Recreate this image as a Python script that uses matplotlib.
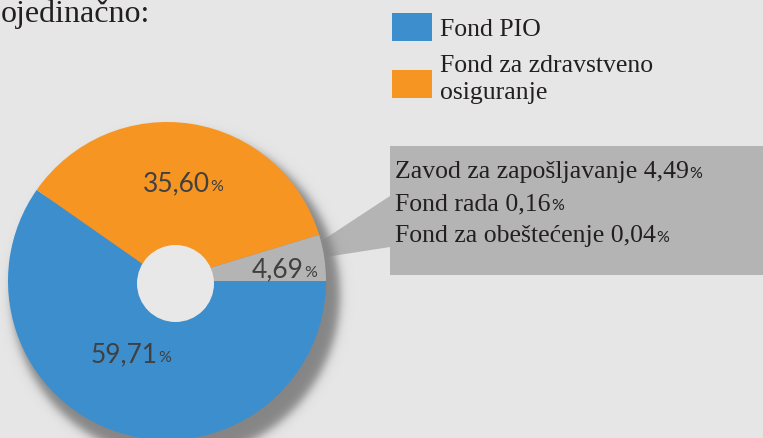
import numpy as np
import matplotlib
matplotlib.use("Agg")
import matplotlib.pyplot as plt
from matplotlib.patches import Rectangle, Circle, Polygon

# ---------------- data ----------------
title = "ojedinačno:"
slice_labels = ["Fond PIO", "Fond za zdravstveno\nosiguranje", "Ostalo"]
slice_values = [59.71, 35.60, 4.69]
legend_labels = ["Fond PIO", "Fond za zdravstveno\nosiguranje"]
other_names = ["Zavod za zapošljavanje", "Fond rada", "Fond za obeštećenje"]
other_values = [4.49, 0.16, 0.04]

# ---------------- style ----------------
W, H = 763, 439
BG = "#e6e6e6"
BLUE = "#3c8ecd"
ORANGE = "#f79522"
GRAY = "#b4b4b4"
HOLE = "#e8e8e8"
SHADOW = "#858585"
TXT = "#231f20"
NUM = "#404040"
SERIF = ["Liberation Serif", "DejaVu Serif"]
SANS = ["Lato", "DejaVu Sans"]

fig = plt.figure(figsize=(W / 100, H / 100), dpi=100, facecolor=BG)
ax = fig.add_axes([0, 0, 1, 1])
ax.set_facecolor(BG)


def Y(p):
    return H - p


cx, cy, R = 167, 282, 159

# connector wedge (under the shadow)
ax.add_patch(Polygon([(390, Y(197)), (323, Y(241)), (326, Y(258)), (390, Y(248))],
                     closed=True, facecolor=GRAY, edgecolor="none", zorder=1))
# callout box
ax.add_patch(Rectangle((390, Y(276)), 400, 129, facecolor=GRAY, edgecolor="none", zorder=1))

# soft drop shadow of the pie
yy, xx = np.mgrid[0:H, 0:W] + 0.5
sx, sy, sr = cx + 9, cy + 14, R + 5
d = np.sqrt((xx - sx) ** 2 + (yy - sy) ** 2)
alpha = 1.0 / (1.0 + np.exp(-(sr - d) / 2.8))
rgba = np.zeros((H, W, 4))
c = matplotlib.colors.to_rgb(SHADOW)
rgba[..., 0], rgba[..., 1], rgba[..., 2] = c
rgba[..., 3] = alpha
ax.imshow(rgba, extent=(0, W, 0, H), origin="upper", zorder=2, interpolation="bilinear")

# pie
wedges, _ = ax.pie(slice_values, colors=[BLUE, ORANGE, GRAY], startangle=0,
                   counterclock=False, center=(cx, Y(cy)), radius=R,
                   wedgeprops=dict(linewidth=0))
for w in wedges:
    w.set_zorder(3)
ax.add_patch(Circle((175.5, Y(284.5)), 38.5, facecolor=HOLE, edgecolor="none", zorder=4))

ax.set_xlim(0, W)
ax.set_ylim(0, H)
ax.set_aspect("auto")
ax.axis("off")

renderer = fig.canvas.get_renderer()


def fmt(v):
    return f"{v:.2f}".replace(".", ",")


# percentage labels on the pie
label_pos = [(91, 362), (143, 191), (252, 277)]
for (lx, lb), v in zip(label_pos, slice_values):
    t = ax.text(lx, Y(lb), fmt(v), fontsize=19, family=SANS,
                color=NUM, ha="left", va="baseline", zorder=5)
    bb = t.get_window_extent(renderer)
    ax.text(bb.x1 + 0.5, Y(lb), "%", fontsize=11.5, family=SANS,
            color=NUM, ha="left", va="baseline", zorder=5)

# title (cropped)
ax.text(1, Y(22), title, fontsize=23, family=SERIF, color=TXT, ha="left", va="baseline")

# legend
leg_colors = [BLUE, ORANGE]
leg_box_top = [14, 71]
leg_baselines = [[36], [72, 99]]
for col, top, lab, bls in zip(leg_colors, leg_box_top, legend_labels, leg_baselines):
    ax.add_patch(Rectangle((392, Y(top + 28)), 40, 28, facecolor=col, edgecolor="none"))
    for line, bl in zip(lab.split("\n"), bls):
        ax.text(440, Y(bl), line, fontsize=18.5, family=SERIF, color=TXT,
                ha="left", va="baseline")

# callout text
for i, (name, v) in enumerate(zip(other_names, other_values)):
    bl = 178 + 32 * i
    t = ax.text(395, Y(bl), name + " " + fmt(v), fontsize=18.5, family=SERIF,
                color=TXT, ha="left", va="baseline", zorder=5)
    bb = t.get_window_extent(renderer)
    ax.text(bb.x1 + 0.5, Y(bl), "%", fontsize=11.5, family=SANS, color=TXT,
            ha="left", va="baseline", zorder=5)

fig.savefig("out.png", dpi=100, facecolor=BG)
